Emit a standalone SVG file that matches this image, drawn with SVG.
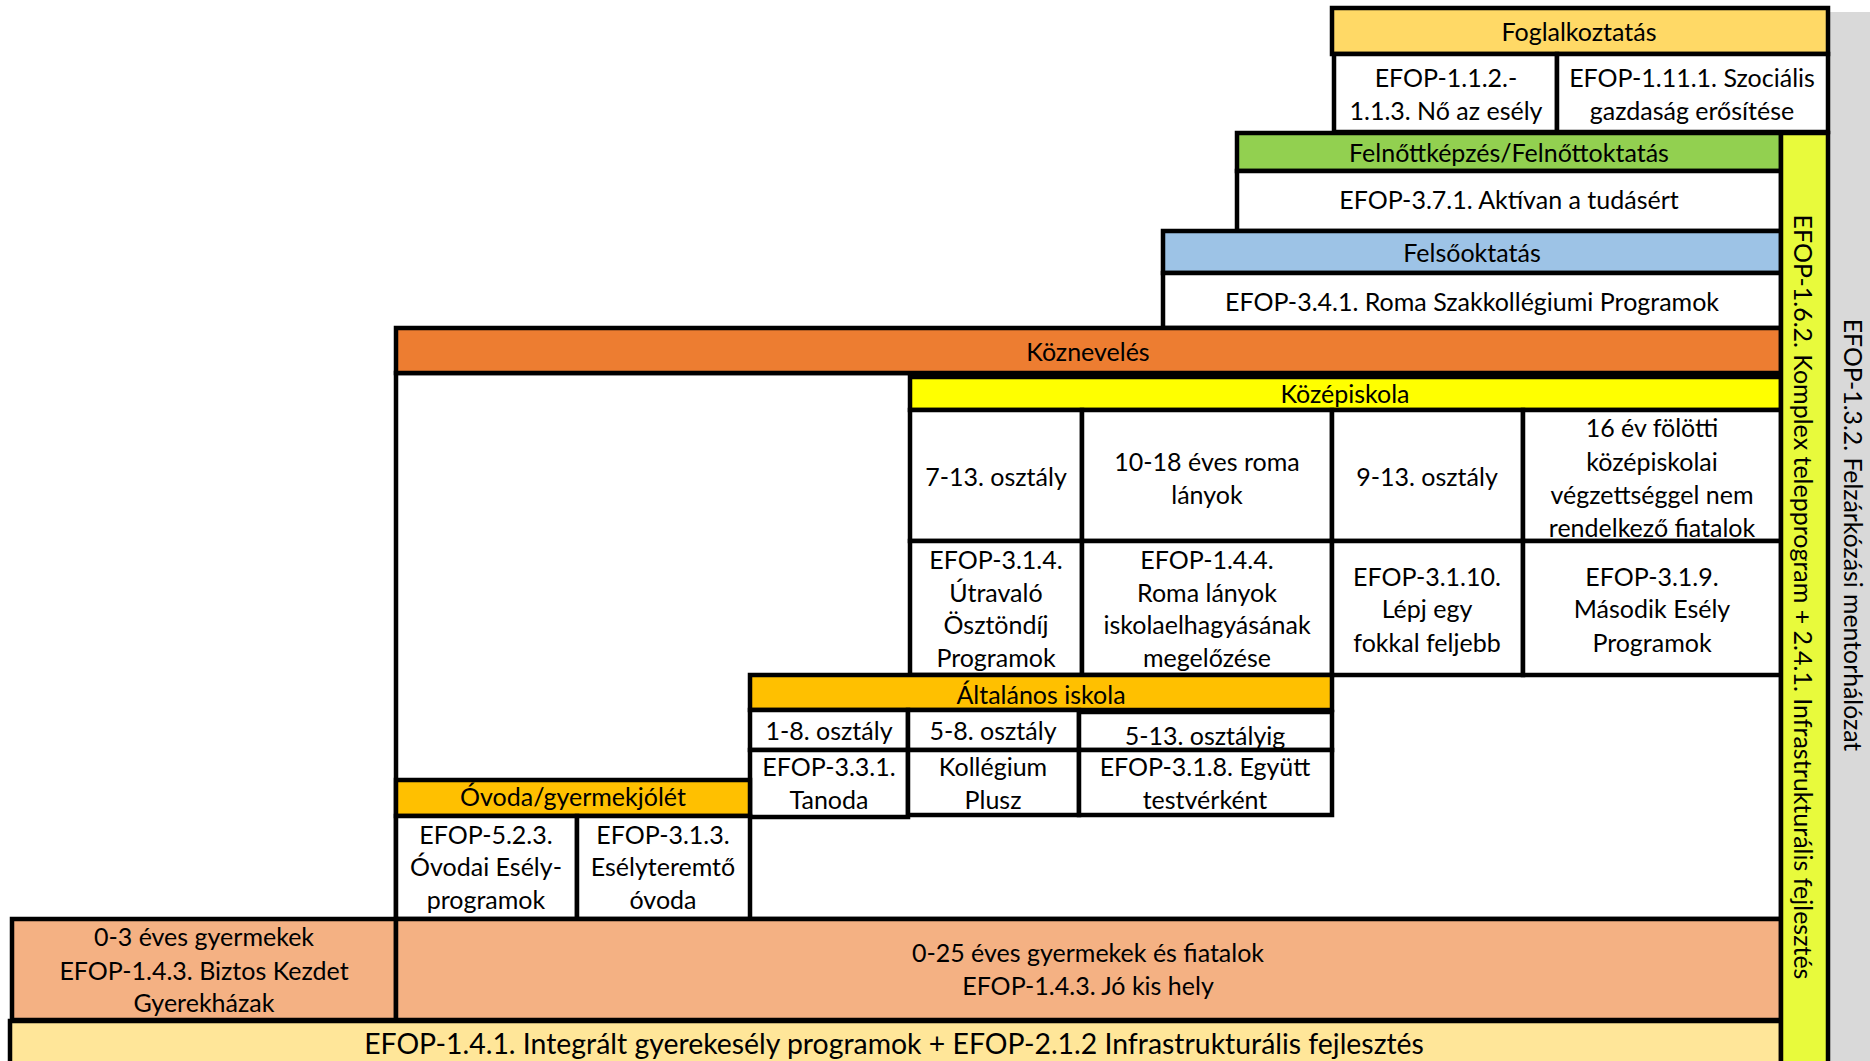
<svg xmlns="http://www.w3.org/2000/svg" width="1870" height="1061" viewBox="0 0 1870 1061">
<style>
  .b { stroke: #000; stroke-width: 4.5; }
  .w { fill: #fff; }
  .t { font-family: Lato, "Liberation Sans", sans-serif; font-size: 25px; fill: #000; text-anchor: middle; }
</style>
<rect x="0" y="0" width="1870" height="1061" fill="#fff"/>
<g id="gray-bar">
  <rect x="1829" y="12" width="45" height="1060" fill="#D9D9D9"/>
  <text class="t" transform="translate(1853,535) rotate(90)" y="9" style="font-size:24.8px">EFOP-1.3.2. Felzárkózási mentorhálózat</text>
</g>
<g id="foglalkoztatas">
  <rect class="b" x="1332" y="8" width="496" height="46" fill="#FFD966"/>
  <text class="t" x="1579" y="41">Foglalkoztatás</text>
</g>
<g id="efop-112">
  <rect class="b w" x="1334" y="54" width="223" height="78"/>
  <text class="t"><tspan x="1446" y="87">EFOP-1.1.2.-</tspan><tspan x="1446" y="120">1.1.3. Nő az esély</tspan></text>
</g>
<g id="efop-1111">
  <rect class="b w" x="1557" y="54" width="271" height="78"/>
  <text class="t"><tspan x="1692" y="87">EFOP-1.11.1. Szociális</tspan><tspan x="1692" y="120">gazdaság erősítése</tspan></text>
</g>
<g id="felnottkepzes">
  <rect class="b" x="1237" y="133" width="544" height="38" fill="#92D050"/>
  <text class="t" x="1509" y="162">Felnőttképzés/Felnőttoktatás</text>
</g>
<g id="efop-371">
  <rect class="b w" x="1237" y="171" width="544" height="60"/>
  <text class="t" x="1509" y="209">EFOP-3.7.1. Aktívan a tudásért</text>
</g>
<g id="felsooktatas">
  <rect class="b" x="1163" y="231" width="618" height="42" fill="#9DC3E6"/>
  <text class="t" x="1472" y="262">Felsőoktatás</text>
</g>
<g id="efop-341">
  <rect class="b w" x="1163" y="273" width="618" height="55"/>
  <text class="t" x="1472" y="311">EFOP-3.4.1. Roma Szakkollégiumi Programok</text>
</g>
<g id="koznevelés-area">
  <rect class="b w" x="396" y="373" width="1385" height="546"/>
</g>
<g id="koznevelés">
  <rect class="b" x="396" y="328" width="1385" height="45" fill="#ED7D31"/>
  <text class="t" x="1088" y="361">Köznevelés</text>
</g>
<g id="kozepiskola">
  <rect class="b" x="910" y="377" width="871" height="33" fill="#FFFF00"/>
  <text class="t" x="1345" y="403">Középiskola</text>
</g>
<g id="k-713">
  <rect class="b w" x="910" y="410" width="172" height="131"/>
  <text class="t" x="996" y="486">7-13. osztály</text>
</g>
<g id="k-1018">
  <rect class="b w" x="1082" y="410" width="250" height="131"/>
  <text class="t"><tspan x="1207" y="471">10-18 éves roma</tspan><tspan x="1207" y="504">lányok</tspan></text>
</g>
<g id="k-913">
  <rect class="b w" x="1332" y="410" width="191" height="131"/>
  <text class="t" x="1427" y="486">9-13. osztály</text>
</g>
<g id="k-16ev">
  <rect class="b w" x="1523" y="410" width="258" height="131"/>
  <text class="t"><tspan x="1652" y="437">16 év fölötti</tspan><tspan x="1652" y="471">középiskolai</tspan><tspan x="1652" y="504">végzettséggel nem</tspan><tspan x="1652" y="537">rendelkező fiatalok</tspan></text>
</g>
<g id="efop-314">
  <rect class="b w" x="910" y="541" width="172" height="134"/>
  <text class="t"><tspan x="996" y="569">EFOP-3.1.4.</tspan><tspan x="996" y="602">Útravaló</tspan><tspan x="996" y="634">Ösztöndíj</tspan><tspan x="996" y="667">Programok</tspan></text>
</g>
<g id="efop-144">
  <rect class="b w" x="1082" y="541" width="250" height="134"/>
  <text class="t"><tspan x="1207" y="569">EFOP-1.4.4.</tspan><tspan x="1207" y="602">Roma lányok</tspan><tspan x="1207" y="634">iskolaelhagyásának</tspan><tspan x="1207" y="667">megelőzése</tspan></text>
</g>
<g id="efop-3110">
  <rect class="b w" x="1332" y="541" width="191" height="134"/>
  <text class="t"><tspan x="1427" y="586">EFOP-3.1.10.</tspan><tspan x="1427" y="618">Lépj egy</tspan><tspan x="1427" y="652">fokkal feljebb</tspan></text>
</g>
<g id="efop-319">
  <rect class="b w" x="1523" y="541" width="258" height="134"/>
  <text class="t"><tspan x="1652" y="586">EFOP-3.1.9.</tspan><tspan x="1652" y="618">Második Esély</tspan><tspan x="1652" y="652">Programok</tspan></text>
</g>
<g id="altalanos">
  <rect class="b" x="750" y="675" width="582" height="35" fill="#FFC000"/>
  <text class="t" x="1041" y="704">Általános iskola</text>
</g>
<g id="a-18">
  <rect class="b w" x="750" y="710" width="158" height="40"/>
  <text class="t" x="829" y="740">1-8. osztály</text>
</g>
<g id="a-58">
  <rect class="b w" x="908" y="710" width="171" height="40"/>
  <text class="t" x="993" y="740">5-8. osztály</text>
</g>
<g id="a-513">
  <rect class="b w" x="1079" y="712" width="253" height="38"/>
  <text class="t" x="1205" y="745">5-13. osztályig</text>
</g>
<g id="efop-331">
  <rect class="b w" x="750" y="750" width="158" height="67"/>
  <text class="t"><tspan x="829" y="776">EFOP-3.3.1.</tspan><tspan x="829" y="809">Tanoda</tspan></text>
</g>
<g id="kollegium">
  <rect class="b w" x="908" y="750" width="171" height="65"/>
  <text class="t"><tspan x="993" y="776">Kollégium</tspan><tspan x="993" y="809">Plusz</tspan></text>
</g>
<g id="efop-318">
  <rect class="b w" x="1079" y="750" width="253" height="65"/>
  <text class="t"><tspan x="1205" y="776">EFOP-3.1.8. Együtt</tspan><tspan x="1205" y="809">testvérként</tspan></text>
</g>
<g id="ovoda">
  <rect class="b" x="396" y="780" width="354" height="36" fill="#FFC000"/>
  <text class="t" x="573" y="806">Óvoda/gyermekjólét</text>
</g>
<g id="efop-523">
  <rect class="b w" x="396" y="816" width="181" height="103"/>
  <text class="t"><tspan x="486" y="844">EFOP-5.2.3.</tspan><tspan x="486" y="876">Óvodai Esély-</tspan><tspan x="486" y="909">programok</tspan></text>
</g>
<g id="efop-313">
  <rect class="b w" x="577" y="816" width="173" height="103"/>
  <text class="t"><tspan x="663" y="844">EFOP-3.1.3.</tspan><tspan x="663" y="876">Esélyteremtő</tspan><tspan x="663" y="909">óvoda</tspan></text>
</g>
<g id="g-03">
  <rect class="b" x="12" y="919" width="384" height="101" fill="#F4B183"/>
  <text class="t"><tspan x="204" y="946">0-3 éves gyermekek</tspan><tspan x="204" y="980">EFOP-1.4.3. Biztos Kezdet</tspan><tspan x="204" y="1012">Gyerekházak</tspan></text>
</g>
<g id="g-025">
  <rect class="b" x="396" y="919" width="1385" height="101" fill="#F4B183"/>
  <text class="t"><tspan x="1088" y="962">0-25 éves gyermekek és fiatalok</tspan><tspan x="1088" y="995">EFOP-1.4.3. Jó kis hely</tspan></text>
</g>
<g id="efop-141">
  <rect class="b" x="10" y="1021" width="1771" height="50" fill="#FFE699"/>
  <text class="t" x="894" y="1054" style="font-size:28.4px">EFOP-1.4.1. Integrált gyerekesély programok + EFOP-2.1.2 Infrastrukturális fejlesztés</text>
</g>
<g id="efop-162">
  <rect class="b" x="1781" y="133" width="47" height="940" fill="#E8FA3C"/>
  <text class="t" transform="translate(1803,597) rotate(90)" y="9" style="font-size:25px">EFOP-1.6.2. Komplex telepprogram + 2.4.1. Infrastrukturális fejlesztés</text>
</g>
<g id="connectors"></g>
</svg>
